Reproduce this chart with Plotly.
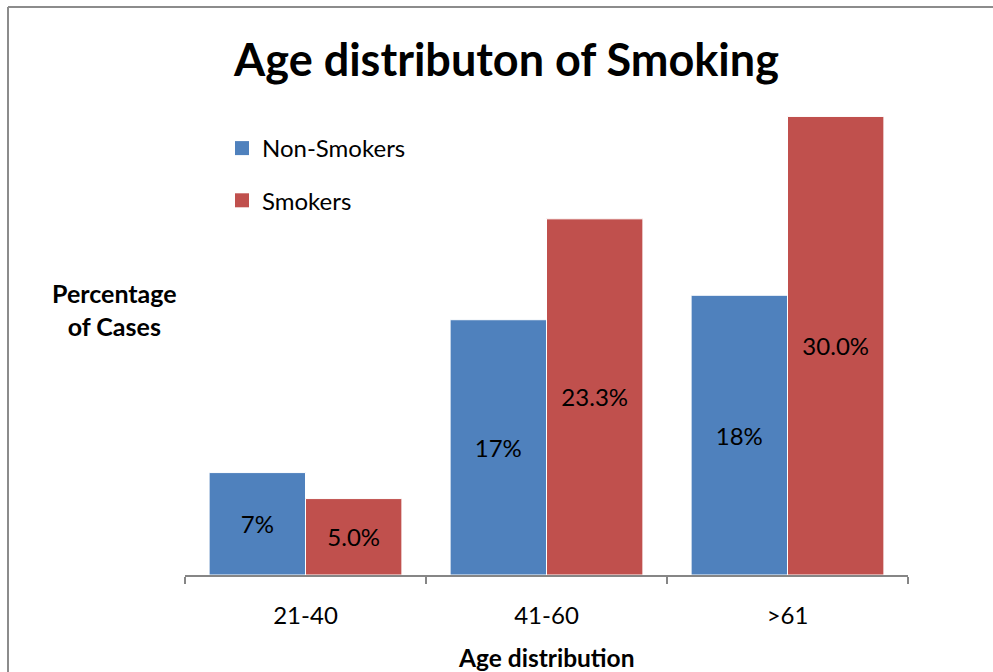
import plotly.graph_objects as go

categories = ["21-40", "41-60", ">61"]
non_smokers = [6.7, 16.7, 18.3]
smokers = [5.0, 23.3, 30.0]
non_smoker_labels = ["7%", "17%", "18%"]
smoker_labels = ["5.0%", "23.3%", "30.0%"]
series_names = ["Non-Smokers", "Smokers"]
series_colors = ["#4F81BD", "#C0504D"]

FONT = "Lato, Carlito, Calibri, sans-serif"

fig = go.Figure()
for vals, labels, name, color in zip([non_smokers, smokers],
                                     [non_smoker_labels, smoker_labels],
                                     series_names, series_colors):
    fig.add_trace(go.Bar(
        x=categories, y=vals, name=name, showlegend=False,
        marker=dict(color=color, line=dict(color="#FFFFFF", width=1)),
        text=labels, textposition="inside", insidetextanchor="middle",
        textfont=dict(color="black", size=24, family=FONT), textangle=0,
    ))
# legend entries with larger square keys
for i, (name, color) in enumerate(zip(series_names, series_colors)):
    fig.add_trace(go.Scatter(
        x=[None], y=[None], mode="markers", name=name, legendgroup=f"g{i}",
        marker=dict(symbol="square", size=14, color=color),
    ))

fig.update_layout(
    width=993, height=672,
    margin=dict(l=185, r=85, t=40, b=97),
    paper_bgcolor="white", plot_bgcolor="white",
    font=dict(family=FONT, color="black"),
    barmode="group", bargap=0.2, bargroupgap=0,
    title=dict(text="<b>Age distributon of Smoking</b>", x=506.5 / 993, xref="container",
               xanchor="center", y=1 - 60 / 672, yref="container", yanchor="middle",
               font=dict(size=45, family=FONT)),
    showlegend=True,
    legend=dict(x=(222 - 185) / 723, y=(575 - 126) / 535, xanchor="left", yanchor="top",
                font=dict(size=24, family=FONT), tracegroupgap=18,
                bgcolor="rgba(0,0,0,0)", itemwidth=30),
    xaxis=dict(showline=True, linecolor="#868686", linewidth=2,
               ticks="outside", tickson="boundaries", ticklen=7,
               tickcolor="#868686", tickwidth=2,
               tickfont=dict(size=24, family=FONT), ticklabelstandoff=18,
               showgrid=False),
    yaxis=dict(range=[0, 35], visible=False, showgrid=False),
)

fig.add_annotation(text="<b>Percentage<br>of Cases</b>", xref="paper", yref="paper",
                   x=(114 - 185) / 723, y=(575 - 309) / 535, showarrow=False,
                   font=dict(size=25, family=FONT), align="center",
                   xanchor="center", yanchor="middle")
fig.add_annotation(text="<b>Age distribution</b>", xref="paper", yref="paper",
                   x=(546 - 185) / 723, y=(575 - 657) / 535, showarrow=False,
                   font=dict(size=24.5, family=FONT), xanchor="center", yanchor="middle")

# chart-area border (only left and top edges are visible in the frame)
fig.add_shape(type="line", xref="paper", yref="paper",
              x0=(8 - 185) / 723, x1=(8 - 185) / 723, y0=(575 - 7) / 535, y1=(575 - 672) / 535,
              line=dict(color="#8C8C8C", width=2))
fig.add_shape(type="line", xref="paper", yref="paper",
              x0=(8 - 185) / 723, x1=(993 - 185) / 723, y0=(575 - 7) / 535, y1=(575 - 7) / 535,
              line=dict(color="#8C8C8C", width=2))

fig.write_html("out.html")
